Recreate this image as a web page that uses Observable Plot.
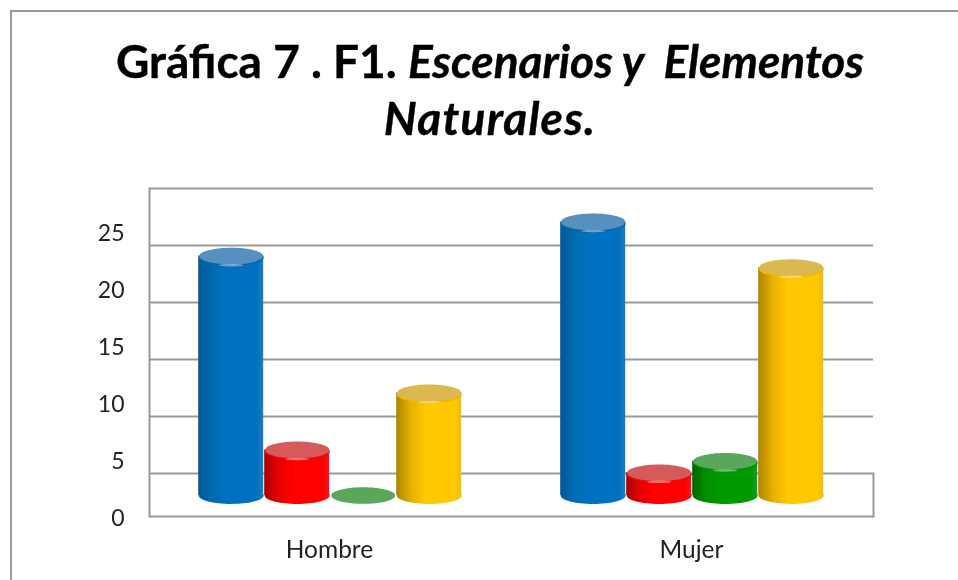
<!DOCTYPE html>
<html>
<head>
<meta charset="utf-8">
<script src="https://cdn.jsdelivr.net/npm/d3@7"></script>
<script src="https://cdn.jsdelivr.net/npm/@observablehq/plot@0.6"></script>
<style>
  html, body { margin: 0; padding: 0; background: #fff; }
  #page { position: relative; width: 958px; height: 580px; overflow: hidden; font-family: Lato, sans-serif; filter: blur(0.45px); }
  #border { position: absolute; left: 10px; top: 10px; width: 950px; height: 572px; border-top: 2px solid #999; border-left: 2px solid #999; box-sizing: border-box; }
  #title { position: relative; box-sizing: border-box; height: 170px; width: 980px; padding-top: 32px; text-align: center; font-size: 46px; line-height: 57px; font-weight: 700; color: #000; white-space: pre; -webkit-text-stroke: 0.4px #000; }
  #title .l2 { letter-spacing: 1.2px; }
  #chart { position: relative; display: block; }
  svg { display: block; }
</style>
</head>
<body>
<div id="page">
  <div id="border"></div>
  <div id="title">Gráfica 7 . F1. <i>Escenarios y  Elementos</i>
<i class="l2">Naturales.</i></div>
  <div id="chart"></div>
</div>
<script>
const groups = ["Hombre", "Mujer"];
const seriesNames = ["Serie 1", "Serie 2", "Serie 3", "Serie 4"];
const hombre = [21, 4, 0, 9];
const mujer = [24, 2, 3, 20];
const yTicks = [0, 5, 10, 15, 20, 25];
const bodyStops = {
  "Serie 1": ["#005a96", "#006bb2", "#0070c0", "#0070c0", "#1f7cc0"],
  "Serie 2": ["#a80000", "#e80000", "#ff0000", "#ff0000", "#f01818"],
  "Serie 3": ["#006400", "#009000", "#009a00", "#009a00", "#1a9e1a"],
  "Serie 4": ["#ad8500", "#e6b000", "#ffc800", "#ffc800", "#efbc10"]
};
const capColors = {"Serie 1": "#5590bf", "Serie 2": "#d65a5a", "Serie 3": "#5aa65a", "Serie 4": "#dcb850"};
const rimColors = {"Serie 1": "#0a64a8", "Serie 2": "#e80a0a", "Serie 3": "#058c05", "Serie 4": "#ecb800"};

const rows = [
  ...hombre.map((value, i) => ({group: groups[0], series: seriesNames[i], value})),
  ...mujer.map((value, i) => ({group: groups[1], series: seriesNames[i], value}))
];
const ellipseOf = ratio => ({
  draw(ctx, size) {
    const rx = Math.sqrt(size / Math.PI), ry = rx * ratio, k = 0.5523;
    ctx.moveTo(-rx, 0);
    ctx.bezierCurveTo(-rx, -ry * k, -rx * k, -ry, 0, -ry);
    ctx.bezierCurveTo(rx * k, -ry, rx, -ry * k, rx, 0);
    ctx.bezierCurveTo(rx, ry * k, rx * k, ry, 0, ry);
    ctx.bezierCurveTo(-rx * k, ry, -rx, ry * k, -rx, 0);
    ctx.closePath();
  }
});
const ellipse = ellipseOf(0.26);
const lens = ellipseOf(0.1);
const gid = s => "grad" + seriesNames.indexOf(s);
function defs() {
  const ns = "http://www.w3.org/2000/svg";
  const d = document.createElementNS(ns, "defs");
  seriesNames.forEach(s => {
    const g = document.createElementNS(ns, "linearGradient");
    g.setAttribute("id", gid(s));
    [0, .22, .45, .9, 1].forEach((o, i) => {
      const st = document.createElementNS(ns, "stop");
      st.setAttribute("offset", o);
      st.setAttribute("stop-color", bodyStops[s][i]);
      g.appendChild(st);
    });
    d.appendChild(g);
  });
  return d;
}
const plotRows = rows.filter(d => d.value > 0);
const cylinderMarks = seriesNames.flatMap(s => {
  const solid = plotRows.filter(d => d.series === s);
  const all = rows.filter(d => d.series === s);
  const fill = `url(#${gid(s)})`;
  const common = {x: "series", fx: "group", symbol: ellipse, dx: -0.8};
  return [
    Plot.dot(solid, {...common, y: () => 0, r: 32.5, fill}),
    Plot.barY(solid, {x: "series", fx: "group", dx: -0.8, y1: () => 0, y2: "value", fill}),
    Plot.dot(solid, {...common, y: "value", r: 32.5, dy: 1.5, fill: rimColors[s]}),
    Plot.dot(all, {...common, y: "value", r: 32, fill: capColors[s]}),
    Plot.dot(solid, {...common, symbol: lens, y: "value", r: 12, dy: 9.2, fill: "#ffffff", fillOpacity: 0.4})
  ];
});
const chart = Plot.plot({
  width: 958,
  height: 410,
  marginTop: 18,
  marginBottom: 64,
  marginLeft: 149,
  marginRight: 85,
  style: {background: "transparent", fontFamily: "Lato, sans-serif", fontSize: "23px", color: "#222"},
  fx: {domain: groups, padding: 0, axis: null},
  x: {domain: seriesNames, paddingInner: 0.02, paddingOuter: 0.75, axis: null},
  y: {domain: [0, 25], range: [325, 40], axis: null},
  marks: [
    defs,
    Plot.ruleY(yTicks, {y: d => d, dy: -22, stroke: "#999", strokeWidth: 2}),
    Plot.ruleY([0], {y: d => d, dy: 21, stroke: "#999", strokeWidth: 2}),
    Plot.frame({anchor: "left", stroke: "#999", strokeWidth: 2, facet: "super"}),
    Plot.frame({anchor: "right", insetTop: 285, stroke: "#999", strokeWidth: 2, facet: "super"}),
    ...cylinderMarks,
    Plot.axisY(yTicks, {anchor: "left", tickSize: 0, tickPadding: 25, dy: 23, label: null, fontSize: 23, fill: "#222"}),
    Plot.axisFx({anchor: "bottom", tickSize: 0, tickPadding: 24, dx: -1, label: null, fontSize: 24.5, fill: "#222"})
  ]
});
document.getElementById("chart").appendChild(chart);
</script>
</body>
</html>
